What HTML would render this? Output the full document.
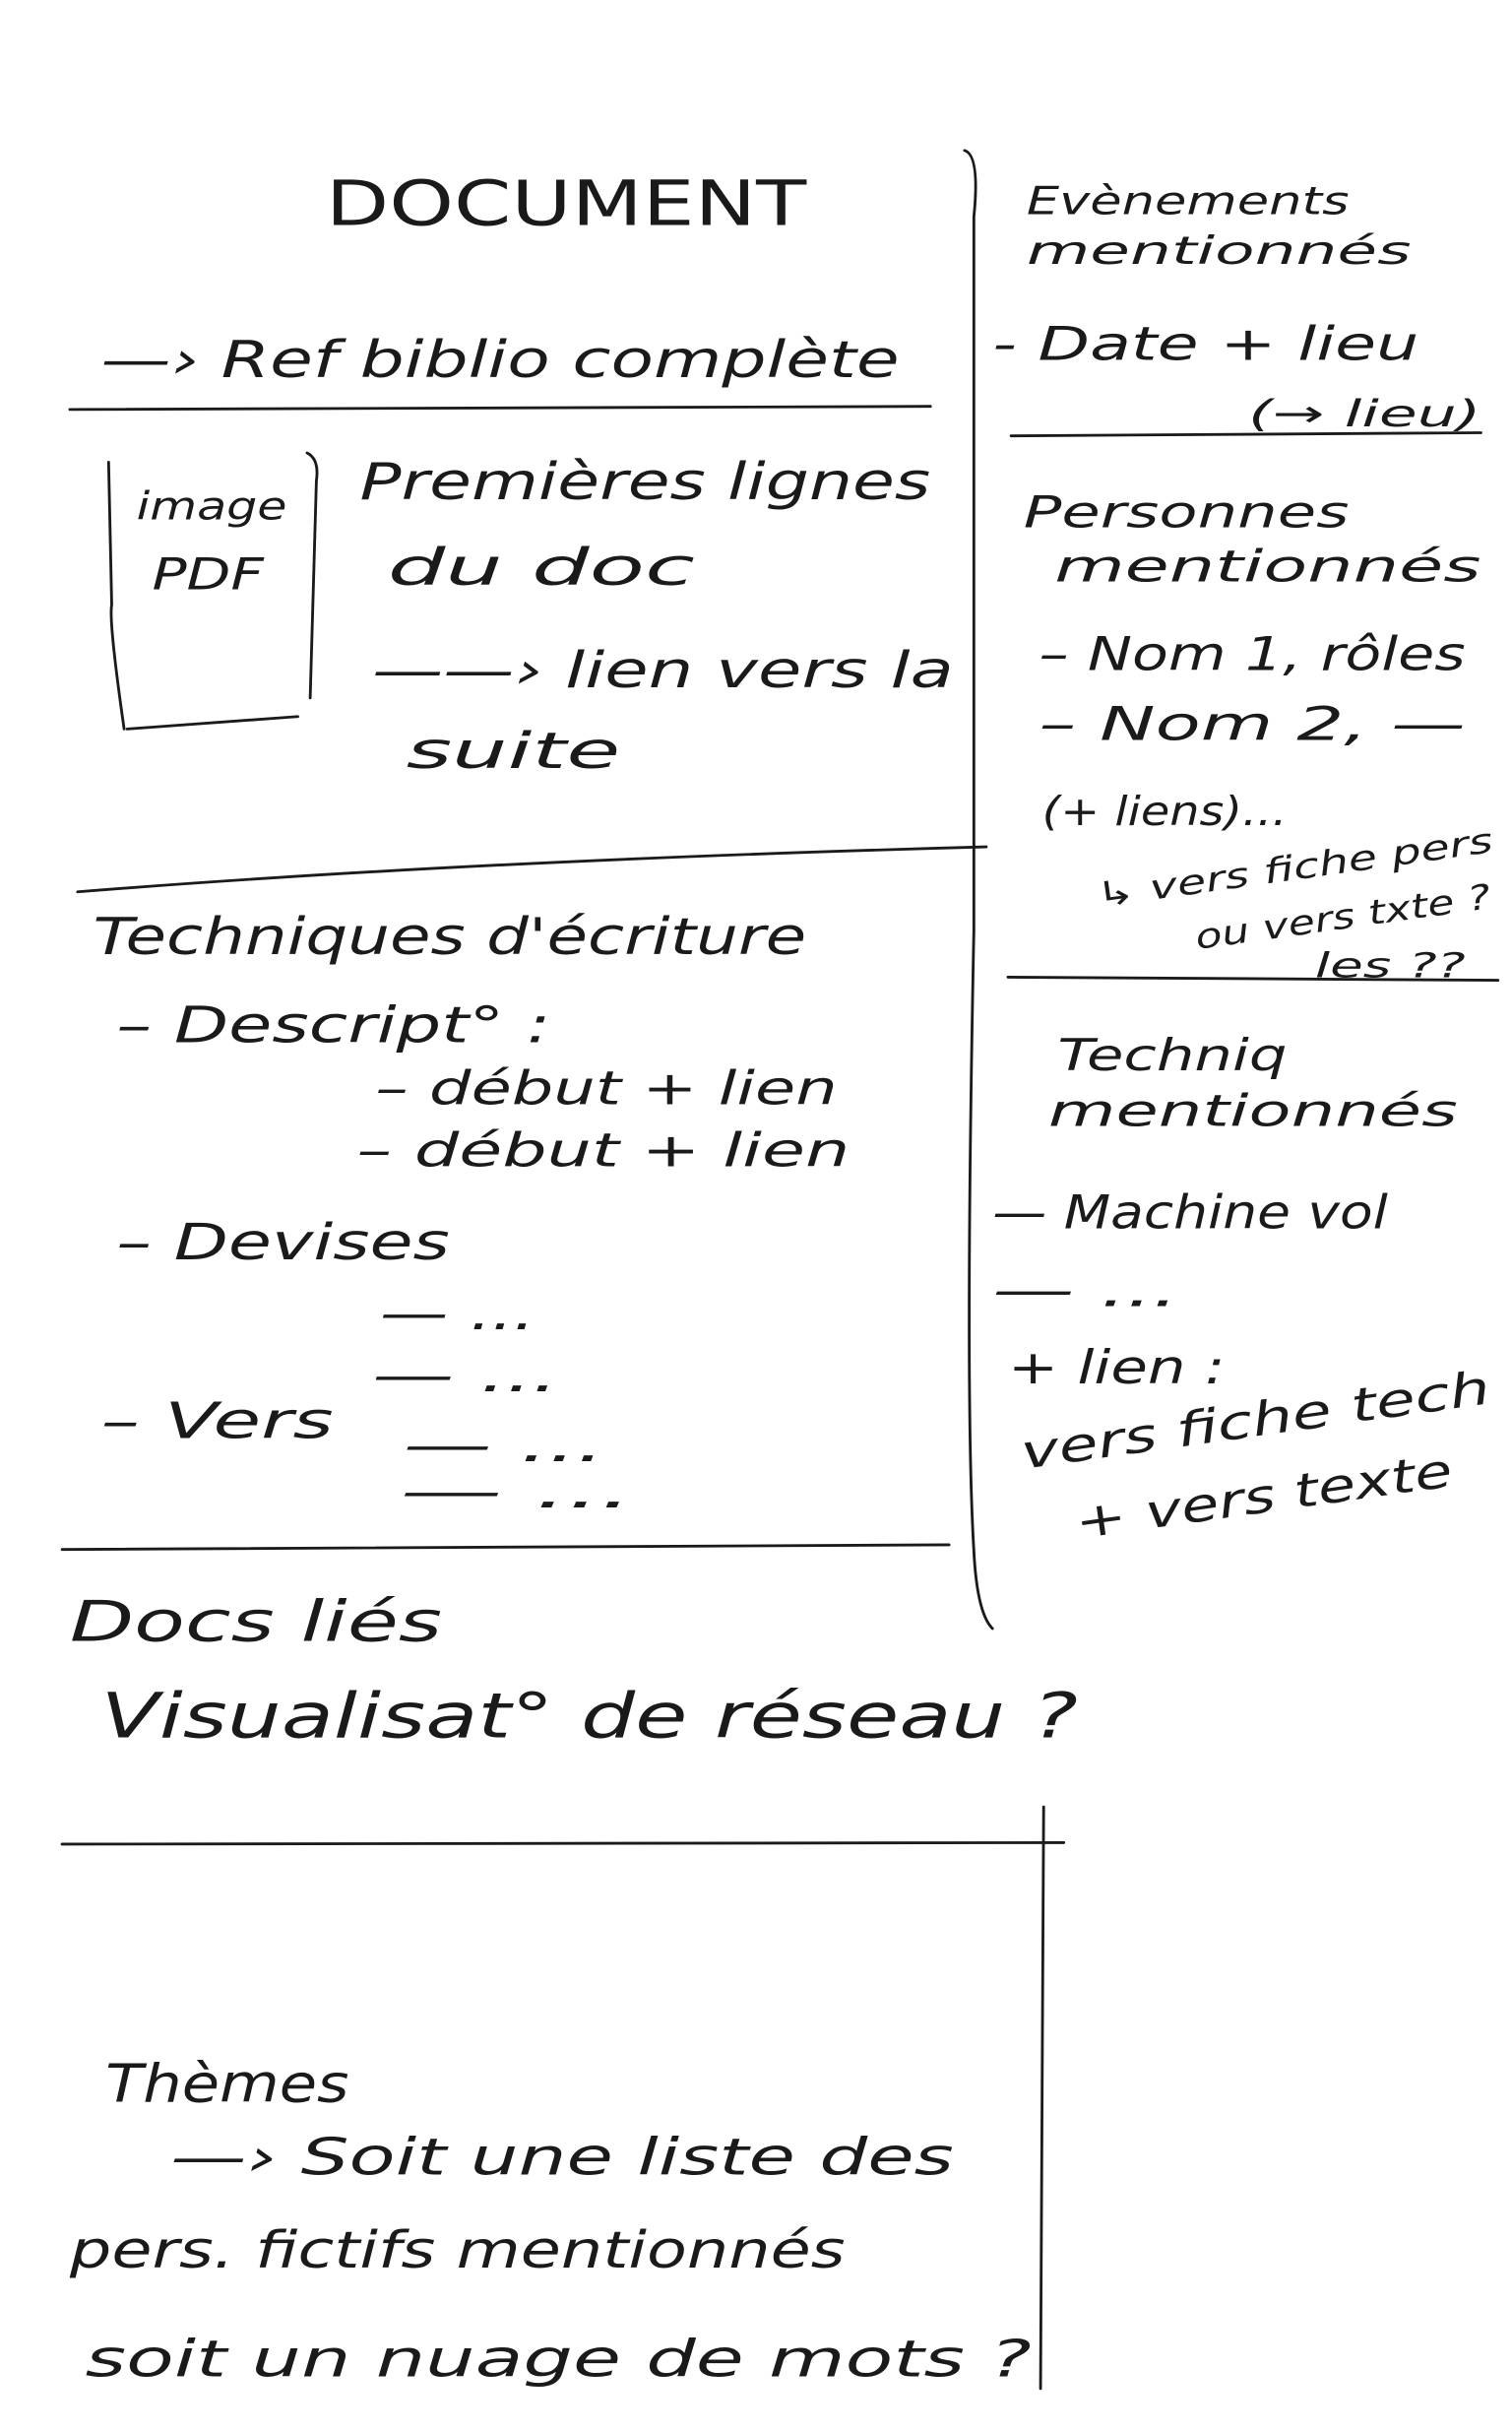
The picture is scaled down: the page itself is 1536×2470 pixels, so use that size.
<!DOCTYPE html>
<html><head><meta charset="utf-8"><style>
html,body{margin:0;padding:0;background:#fff;}
svg{display:block;}
text{font-family:"DejaVu Sans","Liberation Sans",sans-serif;fill:#1a1a1a;font-style:italic;}
</style></head><body>
<svg width="1536" height="2470" viewBox="0 0 975 1568" xmlns="http://www.w3.org/2000/svg">
<rect width="975" height="1568" fill="#fff"/>
<g stroke="#1a1a1a" stroke-width="1.8" fill="none" stroke-linecap="round">
<path d="M45 264 L600 262"/>
<path d="M622 97 Q632 100 628 140 L628 600 Q622 900 628 1000 Q630 1040 640 1050"/>
<path d="M50 575 Q300 555 636 546"/>
<path d="M40 999 L612 996"/>
<path d="M40 1189 L686 1188"/>
<path d="M673 1165 L671 1540"/>
<path d="M652 281 L955 279"/>
<path d="M650 630 L966 632"/>
<path d="M70 298 L72 390 Q70 400 80 470"/>
<path d="M82 470 L192 462"/>
<path d="M198 292 Q206 296 204 310 L200 450"/>
</g>
<g lengthAdjust="spacingAndGlyphs">
<text x="210" y="145" font-size="40" style="font-style:normal" textLength="310" lengthAdjust="spacingAndGlyphs">DOCUMENT</text>
<text x="662" y="138" font-size="25" textLength="208" lengthAdjust="spacingAndGlyphs">Evènements</text>
<text x="662" y="170" font-size="25" textLength="248" lengthAdjust="spacingAndGlyphs">mentionnés</text>
<text x="65" y="243" font-size="33" textLength="515" lengthAdjust="spacingAndGlyphs">—› Ref biblio complète</text>
<text x="640" y="232" font-size="30" textLength="275" lengthAdjust="spacingAndGlyphs">- Date + lieu</text>
<text x="805" y="275" font-size="24" textLength="150" lengthAdjust="spacingAndGlyphs">(→ lieu)</text>
<text x="88" y="335" font-size="25" textLength="97" lengthAdjust="spacingAndGlyphs">image</text>
<text x="98" y="380" font-size="28" textLength="72" lengthAdjust="spacingAndGlyphs">PDF</text>
<text x="232" y="322" font-size="33" textLength="368" lengthAdjust="spacingAndGlyphs">Premières lignes</text>
<text x="250" y="377" font-size="33" textLength="198" lengthAdjust="spacingAndGlyphs">du doc</text>
<text x="240" y="443" font-size="32" textLength="375" lengthAdjust="spacingAndGlyphs">——› lien vers la</text>
<text x="262" y="495" font-size="32" textLength="138" lengthAdjust="spacingAndGlyphs">suite</text>
<text x="660" y="340" font-size="28" textLength="210" lengthAdjust="spacingAndGlyphs">Personnes</text>
<text x="680" y="375" font-size="28" textLength="275" lengthAdjust="spacingAndGlyphs">mentionnés</text>
<text x="670" y="432" font-size="30" textLength="275" lengthAdjust="spacingAndGlyphs">– Nom 1, rôles</text>
<text x="670" y="477" font-size="30" textLength="275" lengthAdjust="spacingAndGlyphs">– Nom 2, —</text>
<text x="672" y="532" font-size="26" textLength="158" lengthAdjust="spacingAndGlyphs">(+ liens)...</text>
<text x="708" y="585" font-size="22" transform="rotate(-8 708 585)" textLength="258" lengthAdjust="spacingAndGlyphs">↳ vers fiche pers</text>
<text x="772" y="612" font-size="22" transform="rotate(-8 772 612)" textLength="192" lengthAdjust="spacingAndGlyphs">ou vers txte ?</text>
<text x="848" y="630" font-size="22" textLength="97" lengthAdjust="spacingAndGlyphs">les ??</text>
<text x="60" y="615" font-size="33" textLength="460" lengthAdjust="spacingAndGlyphs">Techniques d'écriture</text>
<text x="75" y="672" font-size="32" textLength="280" lengthAdjust="spacingAndGlyphs">– Descript° :</text>
<text x="242" y="712" font-size="30" textLength="298" lengthAdjust="spacingAndGlyphs">– début + lien</text>
<text x="230" y="752" font-size="30" textLength="318" lengthAdjust="spacingAndGlyphs">– début + lien</text>
<text x="75" y="812" font-size="32" textLength="215" lengthAdjust="spacingAndGlyphs">– Devises</text>
<text x="245" y="857" font-size="30" textLength="100" lengthAdjust="spacingAndGlyphs">— ...</text>
<text x="240" y="897" font-size="30" textLength="120" lengthAdjust="spacingAndGlyphs">— ...</text>
<text x="65" y="927" font-size="32" textLength="150" lengthAdjust="spacingAndGlyphs">– Vers</text>
<text x="260" y="942" font-size="30" textLength="130" lengthAdjust="spacingAndGlyphs">— ...</text>
<text x="258" y="972" font-size="30" textLength="150" lengthAdjust="spacingAndGlyphs">— ...</text>
<text x="682" y="690" font-size="28" textLength="148" lengthAdjust="spacingAndGlyphs">Techniq</text>
<text x="676" y="726" font-size="28" textLength="264" lengthAdjust="spacingAndGlyphs">mentionnés</text>
<text x="640" y="792" font-size="30" textLength="255" lengthAdjust="spacingAndGlyphs">— Machine vol</text>
<text x="640" y="842" font-size="30" textLength="120" lengthAdjust="spacingAndGlyphs">— ...</text>
<text x="650" y="892" font-size="30" textLength="140" lengthAdjust="spacingAndGlyphs">+ lien :</text>
<text x="660" y="947" font-size="30" transform="rotate(-8 660 947)" textLength="305" lengthAdjust="spacingAndGlyphs">vers fiche tech</text>
<text x="695" y="992" font-size="30" transform="rotate(-8 695 992)" textLength="245" lengthAdjust="spacingAndGlyphs">+ vers texte</text>
<text x="45" y="1058" font-size="36" textLength="240" lengthAdjust="spacingAndGlyphs">Docs liés</text>
<text x="65" y="1120" font-size="40" textLength="630" lengthAdjust="spacingAndGlyphs">Visualisat° de réseau ?</text>
<text x="68" y="1355" font-size="34" textLength="157" lengthAdjust="spacingAndGlyphs">Thèmes</text>
<text x="110" y="1402" font-size="33" textLength="505" lengthAdjust="spacingAndGlyphs">—› Soit une liste des</text>
<text x="45" y="1462" font-size="33" textLength="500" lengthAdjust="spacingAndGlyphs">pers. fictifs mentionnés</text>
<text x="55" y="1532" font-size="33" textLength="610" lengthAdjust="spacingAndGlyphs">soit un nuage de mots ?</text>
</g>
</svg>
</body></html>
